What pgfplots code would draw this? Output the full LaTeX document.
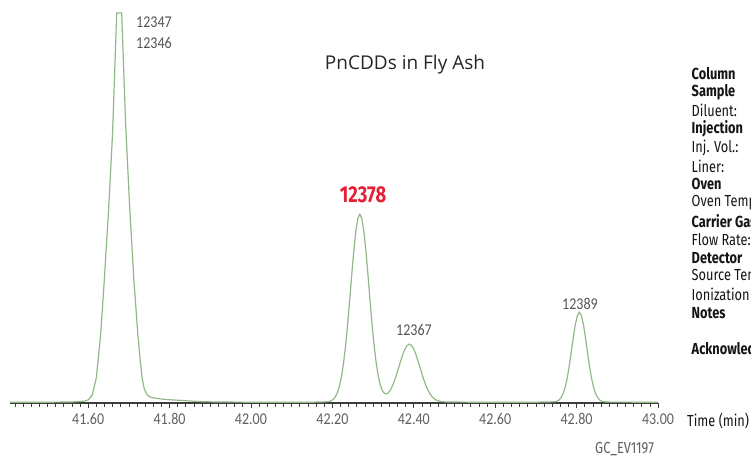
\documentclass[border=0pt]{standalone}
\usepackage{pgfplots}
\pgfplotsset{compat=1.18}
\usepackage{fontspec}
\setmainfont{Open Sans}
\newfontfamily\tickfont[FakeStretch=0.85]{Carlito}
\newfontfamily\condfont[FakeStretch=0.8]{Fira Sans}
\definecolor{trace}{RGB}{145,185,135}
\definecolor{tickgray}{RGB}{95,95,95}
\definecolor{axisgray}{RGB}{60,60,60}
\definecolor{peakred}{RGB}{228,32,52}
\definecolor{labgray}{RGB}{85,85,85}
\definecolor{paneltext}{RGB}{20,20,20}

\pgfplotstableread{
t h
41.408 0.8
41.50 0.8
41.56 1.0
41.59 1.8
41.60 3
41.61 8
41.62 25
41.625 45
41.631 70
41.64 125
41.6505 195
41.66 270
41.6702 390
41.6824 390
41.692 280
41.7021 195
41.712 125
41.7218 70
41.728 42
41.733 24
41.738 14
41.745 8
41.755 5.5
41.77 4.5
41.79 3.5
41.82 2.8
41.85 2
41.88 1.3
41.92 1
42.00 0.8
42.15 0.8
42.1875 1.2
42.1925 1.6
42.1975 2.4
42.2025 3.8
42.2075 6.3
42.2125 10.5
42.2175 17.1
42.2225 26.7
42.2275 40.1
42.2325 57.5
42.2375 78.7
42.2425 102.8
42.2475 127.9
42.2525 151.6
42.2575 171.3
42.2625 184.3
42.2675 188.8
42.2725 184.3
42.2775 171.3
42.2825 151.6
42.2875 127.9
42.2925 102.9
42.2975 78.8
42.3025 57.7
42.3075 40.5
42.3125 27.4
42.3175 18.3
42.3225 12.6
42.3275 9.7
42.3325 9.0
42.3375 10.2
42.3425 12.9
42.3475 17.0
42.3525 22.2
42.3575 28.3
42.3625 34.9
42.3675 41.7
42.3725 48.0
42.3775 53.2
42.3825 56.9
42.3875 58.7
42.3891 58.8
42.3941 57.7
42.3991 54.6
42.4041 49.8
42.4091 43.7
42.4141 37.1
42.4191 30.3
42.4241 23.9
42.4291 18.2
42.4341 13.5
42.4391 9.7
42.4441 6.8
42.4491 4.7
42.4541 3.2
42.4591 2.3
42.4641 1.6
42.4691 1.3
42.48 1.0
42.55 0.8
42.70 0.8
42.7468 1.2
42.7518 1.8
42.7568 3.0
42.7618 5.3
42.7668 9.3
42.7718 15.5
42.7768 24.6
42.7818 36.6
42.7868 50.7
42.7918 65.4
42.7968 78.4
42.8018 87.5
42.8068 90.8
42.8118 87.5
42.8168 78.4
42.8218 65.4
42.8268 50.7
42.8318 36.6
42.8368 24.6
42.8418 15.5
42.8468 9.3
42.8518 5.3
42.8568 3.0
42.8618 1.8
42.8668 1.2
42.88 0.9
43.00 0.8
}\chrom

\begin{document}
\begin{tikzpicture}[x=1pt,y=1pt]
\useasboundingbox (0,0) rectangle (751,458);
\clip (0,0) rectangle (751,458);
\begin{axis}[
  at={(10pt,55pt)}, anchor=south west,
  scale only axis, width=648pt, height=392pt,
  xmin=41.408, xmax=43.0, ymin=0, ymax=392,
  axis x line*=bottom, axis y line=none,
  axis line style={axisgray, line width=1.5pt, -},
  xtick={41.6,41.8,42.0,42.2,42.4,42.6,42.8,43.0},
  minor xtick={41.42,41.44,...,42.99},
  tick align=outside,
  major tick length=5pt, minor tick length=3.5pt,
  every tick/.style={axisgray, line width=0.8pt},
  minor tick style={axisgray, line width=0.7pt},
  xticklabel style={font=\tickfont\fontsize{16.5}{18}\selectfont, text=tickgray, yshift=-2pt},
  /pgf/number format/.cd, fixed, fixed zerofill, precision=2, assume math mode=true,
]
\addplot[trace, line width=1.2pt] table[x=t, y=h] {\chrom};
\end{axis}

% title and peak labels
\node[font=\fontsize{19}{22}\selectfont, text=black!85] at (405,393) {PnCDDs in Fly Ash};
\node[font=\tickfont\fontsize{16.5}{18}\selectfont, text=labgray] at (154,435.5) {12347};
\node[font=\tickfont\fontsize{16.5}{18}\selectfont, text=labgray] at (154,415.2) {12346};
\node[font=\condfont\bfseries\fontsize{23}{26}\selectfont, text=peakred] at (363,263.5) {12378};
\node[font=\tickfont\fontsize{16.5}{18}\selectfont, text=labgray] at (414,128) {12367};
\node[font=\tickfont\fontsize{16.5}{18}\selectfont, text=labgray] at (580,154) {12389};

% axis label and code
\node[font=\condfont\fontsize{16}{18}\selectfont, text=paneltext, anchor=west, inner sep=0pt] at (687,37) {Time (min)};
\node[font=\condfont\fontsize{16}{18}\selectfont, text=tickgray, anchor=west, inner sep=0pt] at (595,9) {GC\_EV1197};

% right panel (cut at the right edge, as in the reference)
\begin{scope}[every node/.style={anchor=west, inner sep=0pt, text=paneltext, font=\condfont\fontsize{16}{18}\selectfont}]
\node at (691.5,{458-74.0}) {\bfseries Column};
\node at (691.5,{458-92.4}) {\bfseries Sample};
\node at (691.5,{458-110.8}) {Diluent:};
\node at (691.5,{458-129.2}) {\bfseries Injection};
\node at (691.5,{458-147.6}) {Inj. Vol.:};
\node at (691.5,{458-166.0}) {Liner:};
\node at (691.5,{458-184.4}) {\bfseries Oven};
\node at (691.5,{458-202.8}) {Oven Temp.:};
\node at (691.5,{458-221.2}) {\bfseries Carrier Gas};
\node at (691.5,{458-239.6}) {Flow Rate:};
\node at (691.5,{458-258.0}) {\bfseries Detector};
\node at (691.5,{458-276.4}) {Source Temp.:};
\node at (691.5,{458-294.8}) {Ionization Mode:};
\node at (691.5,{458-313.2}) {\bfseries Notes};
\node at (691.5,{458-350.0}) {\bfseries Acknowledgement};
\end{scope}
\end{tikzpicture}
\end{document}
